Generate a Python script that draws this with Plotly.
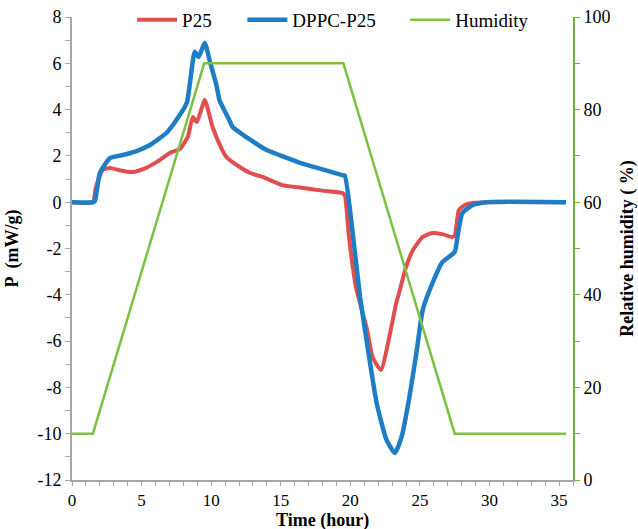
import plotly.graph_objects as go

# Time (hour) and heat flow P (mW/g)
t_p25 = [0, 1.5, 1.7, 2.2, 2.73, 3.4, 4.38, 5.2, 6.1, 7.03, 7.75, 8.32, 8.68, 8.97, 9.54,
         10.1, 10.8, 11.1, 12.05, 12.8, 13.7, 15.1, 16.5, 18.0, 19.4,
         19.6, 19.9, 20.4, 21.2, 21.6, 22.2, 22.8, 23.3, 23.5, 24.0, 24.5, 25.2, 25.9, 26.6, 27.3,
         27.5, 27.8, 28.3, 28.8, 29.8, 35.5]
p_p25 = [0, 0, 0.6, 1.39, 1.48, 1.38, 1.30, 1.45, 1.74, 2.13, 2.3, 2.82, 3.68, 3.46, 4.41,
         3.25, 2.25, 1.95, 1.52, 1.26, 1.09, 0.74, 0.62, 0.5, 0.40,
         0.3, -1.5, -3.66, -5.5, -6.7, -7.25, -5.82, -4.35, -3.92, -2.8, -2.07, -1.5, -1.33, -1.38, -1.5,
         -1.45, -0.34, -0.1, -0.03, 0, 0]

t_dppc = [0, 1.5, 1.65, 2.0, 2.73, 3.66, 4.6, 5.6, 6.8, 7.5, 8.25, 8.82, 9.1, 9.54,
          9.9, 10.4, 10.6, 11.3, 11.55, 12.8, 14.0, 16.4, 18.0, 19.4,
          19.6, 20.2, 20.7, 21.2, 21.9, 22.6, 23.2, 23.7, 24.25, 24.75, 25.2, 25.9, 26.6, 27.5,
          27.7, 28.05, 28.8, 29.8, 35.5]
p_dppc = [0, 0, 0.05, 1.26, 1.9, 2.04, 2.2, 2.47, 3.0, 3.55, 4.3, 6.5, 6.27, 6.88,
          6.1, 5.0, 4.4, 3.55, 3.25, 2.7, 2.25, 1.7, 1.42, 1.17,
          1.15, -1.5, -4.1, -6.1, -8.7, -10.27, -10.83, -10.1, -8.4, -6.5, -4.66, -3.5, -2.6, -2.15,
          -1.5, -0.47, -0.12, 0, 0]

# Relative humidity (%)
t_rh = [0, 1.5, 9.5, 19.5, 27.5, 35.5]
rh = [10, 10, 90, 90, 10, 10]

x_ticks = [0, 5, 10, 15, 20, 25, 30, 35]
y_ticks = [-12, -10, -8, -6, -4, -2, 0, 2, 4, 6, 8]
y_ticktext = ["-12", "-10", "-8", "-6", "-4", "-2", "0", "2", "4", "6", "8"]
y2_ticks = [0, 20, 40, 60, 80, 100]

font_family = "Liberation Serif"
red = "#E04E4E"
blue = "#1F7DC6"
green = "#7CC142"
axis_gray = "#A6A6A6"
axis_green = "#70AD47"
tickfont = dict(family=font_family, size=18, color="black")
titlefont = dict(family=font_family, size=18, color="black")
legfont = dict(family=font_family, size=19, color="black")

fig = go.Figure()
fig.add_trace(go.Scatter(x=t_p25, y=p_p25, name="P25", mode="lines", legend="legend",
                         line=dict(color=red, width=4, shape="spline", smoothing=0.5)))
fig.add_trace(go.Scatter(x=t_dppc, y=p_dppc, name="DPPC-P25", mode="lines", legend="legend2",
                         line=dict(color=blue, width=4.5, shape="spline", smoothing=0.5)))
fig.add_trace(go.Scatter(x=t_rh, y=rh, name="Humidity", mode="lines", yaxis="y2", legend="legend3",
                         line=dict(color=green, width=2.5)))

leg_common = dict(y=0.994, xanchor="left", yanchor="middle", bgcolor="rgba(0,0,0,0)",
                  font=legfont, itemwidth=40, orientation="h")

fig.update_layout(
    width=638, height=529,
    margin=dict(l=72, r=65, t=17, b=49, autoexpand=False),
    plot_bgcolor="white", paper_bgcolor="white",
    font=dict(family=font_family, size=18, color="black"),
    showlegend=True,
    legend=dict(x=0.12, **leg_common),
    legend2=dict(x=0.34, **leg_common),
    legend3=dict(x=0.665, **leg_common),
    xaxis=dict(range=[0, 36], tickvals=x_ticks, ticks="outside", ticklen=4, tickcolor=axis_gray,
               tickfont=dict(family=font_family, size=17, color="black"),
               showline=True, linecolor=axis_gray, linewidth=2, showgrid=False, zeroline=False,
               minor=dict(dtick=1, ticks="outside", ticklen=4, tickcolor=axis_gray)),
    yaxis=dict(range=[-12, 8], tickvals=y_ticks, ticktext=y_ticktext, ticks="outside", ticklen=5,
               tickcolor=axis_gray, tickfont=tickfont,
               showline=True, linecolor=axis_gray, linewidth=2, showgrid=False, zeroline=False,
               minor=dict(dtick=1, ticks="outside", ticklen=5, tickcolor=axis_gray),
               title=dict(text="<b>P  (mW/g)</b>", standoff=14, font=titlefont)),
    yaxis2=dict(range=[0, 100], tickvals=y2_ticks, overlaying="y", side="right", anchor="x",
                ticks="outside", ticklen=5, tickcolor=axis_green, tickfont=tickfont,
                showline=True, linecolor=axis_green, linewidth=2, showgrid=False, zeroline=False,
                minor=dict(dtick=10, ticks="outside", ticklen=5, tickcolor=axis_green),
                title=dict(text="<b>Relative humidity ( %)</b>", standoff=11, font=titlefont)),
    annotations=[dict(text="<b>Time (hour)</b>", xref="paper", yref="paper", x=0.5, y=-0.088,
                      xanchor="center", yanchor="middle", showarrow=False, font=titlefont)],
)

fig.write_html("out.html", config={"displayModeBar": False},
               post_script="document.body.style.margin='0';")
